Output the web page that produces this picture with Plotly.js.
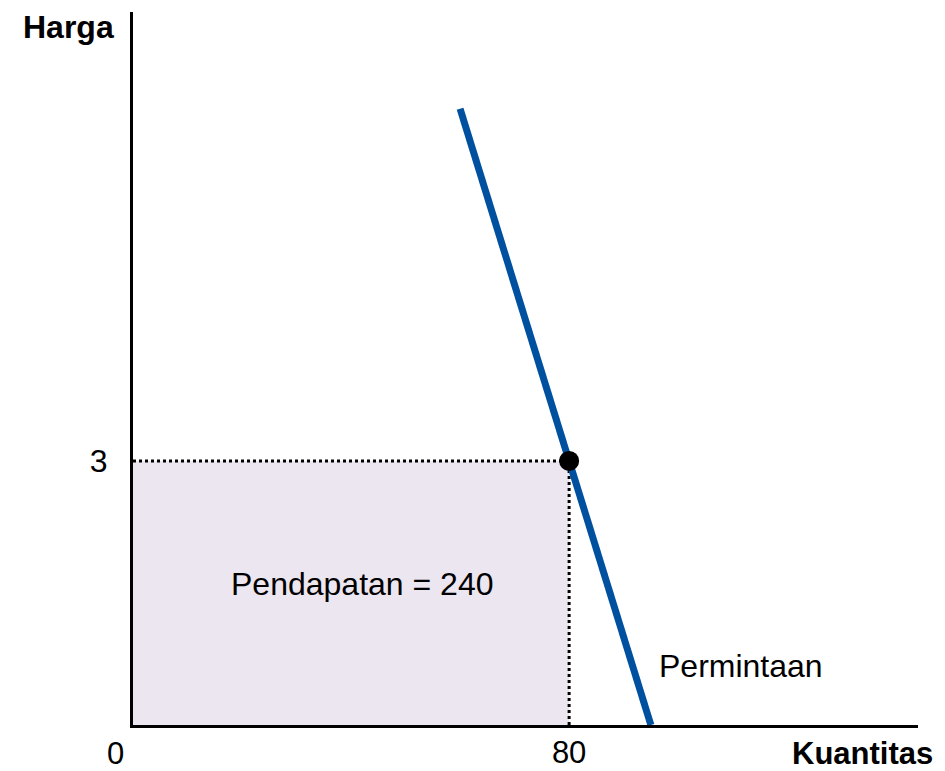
<!DOCTYPE html>
<html><head><meta charset="utf-8">
<script src="https://cdn.plot.ly/plotly-3.0.1.min.js"></script>
<style>body{margin:0;background:#fff}#c{width:945px;height:771px}</style>
</head><body><div id="c"></div>
<script>
// Data
const demandQ = [60, 95];
const demandP = [7, 0];
const eqQ = [80];
const eqP = [3];
const revenueLabel = "Pendapatan = 240";
const demandLabel = "Permintaan";
const xTickVals = [80];
const xTickText = ["80"];
const yTickVals = [3];
const yTickText = ["3"];
const xRange = [0, 144];
const yRange = [0, 8.1];

const F = "Liberation Sans, Arial, sans-serif";
const FS = 32;
const FB = 31;

const traces = [
  { x: [0, eqQ[0], eqQ[0], 0, 0], y: [0, 0, eqP[0], eqP[0], 0], mode: "lines", fill: "toself",
    fillcolor: "#ECE6F0", line: { width: 0 }, hoverinfo: "skip", showlegend: false },
  { x: [0, eqQ[0]], y: [eqP[0], eqP[0]], mode: "lines", line: { color: "#000", width: 3, dash: "dot" }, showlegend: false },
  { x: [eqQ[0], eqQ[0]], y: [0, eqP[0]], mode: "lines", line: { color: "#000", width: 3, dash: "dot" }, showlegend: false },
  { x: demandQ, y: demandP, mode: "lines", line: { color: "#0050A0", width: 7 }, showlegend: false },
  { x: eqQ, y: eqP, mode: "markers", marker: { color: "#000", size: 20 }, showlegend: false }
];

const layout = {
  width: 945, height: 771,
  margin: { l: 133, r: 27, t: 12, b: 46 },
  paper_bgcolor: "#fff", plot_bgcolor: "#fff",
  font: { family: F, size: FS, color: "#000" },
  xaxis: { range: xRange, showgrid: false, zeroline: false, showline: true, linecolor: "#000", linewidth: 3,
    tickvals: xTickVals, ticktext: xTickText, ticks: "", ticklabelstandoff: -2, tickfont: { size: FB }, fixedrange: true },
  yaxis: { range: yRange, showgrid: false, zeroline: false, showline: true, linecolor: "#000", linewidth: 3,
    tickvals: yTickVals, ticktext: yTickText, ticks: "", ticklabelstandoff: 16, tickfont: { size: FS }, fixedrange: true },
  annotations: [
    { xref: "paper", yref: "paper", x: 0, y: 0, xanchor: "right", yanchor: "middle", text: "0", showarrow: false, font: { size: FB }, xshift: -7, yshift: -28 },
    { xref: "paper", yref: "paper", x: 1, y: 0, xanchor: "right", yanchor: "middle", text: "<b>Kuantitas</b>", showarrow: false, font: { size: FB }, xshift: 17, yshift: -28 },
    { xref: "paper", yref: "paper", x: 0, y: 1, xanchor: "right", yanchor: "middle", text: "<b>Harga</b>", showarrow: false, font: { size: FS }, xshift: -17, yshift: -15 },
    { xref: "x", yref: "y", x: 42, y: 1.6, text: revenueLabel, showarrow: false, font: { size: FS } },
    { xref: "x", yref: "y", x: 111.5, y: 0.67, text: demandLabel, showarrow: false, font: { size: FS } }
  ]
};

Plotly.newPlot("c", traces, layout, { displayModeBar: false, staticPlot: true });
</script></body></html>
